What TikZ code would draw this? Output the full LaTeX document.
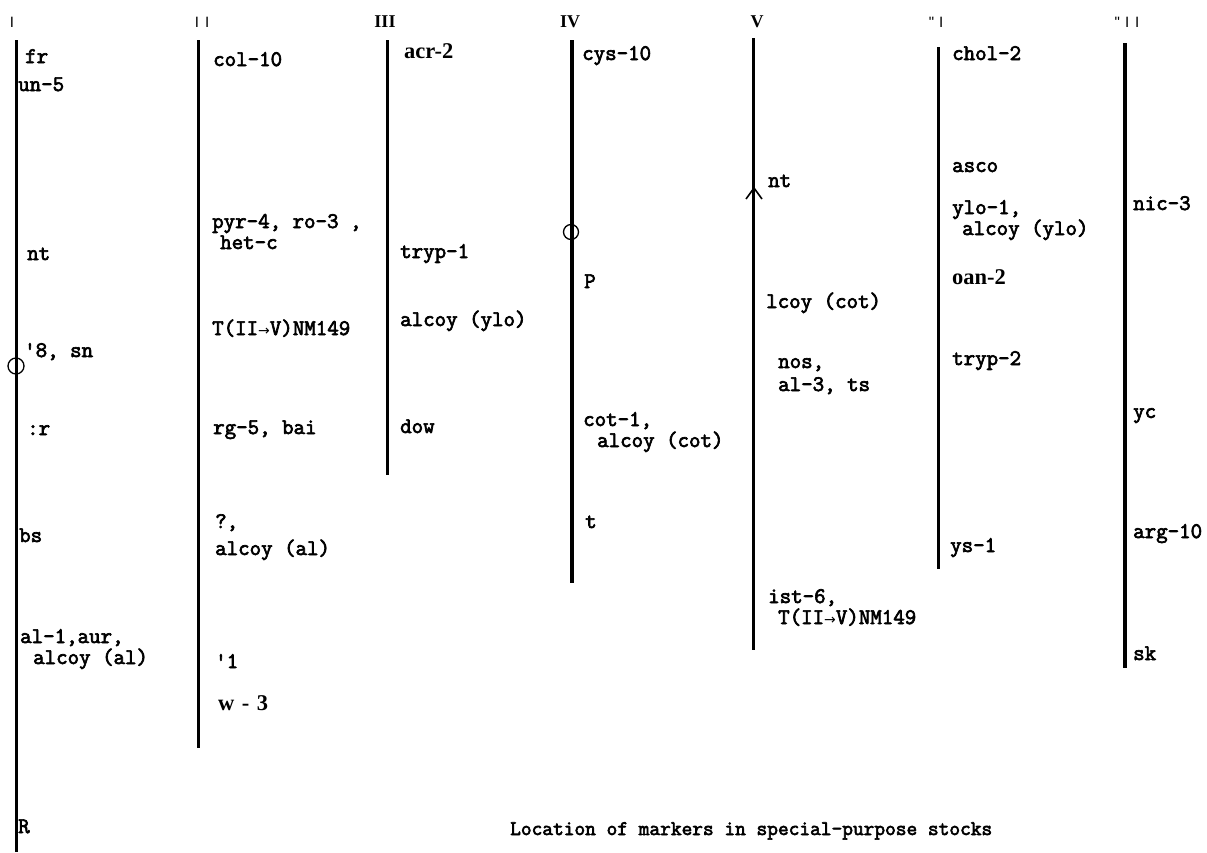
\documentclass[tikz,border=0pt]{standalone}
\usepackage{fontspec}
\newfontfamily\labfont{Latin Modern Mono}[FakeBold=3]
\newfontfamily\serbold{Liberation Serif}
\newfontfamily\headsans{Liberation Sans}
\newfontfamily\arrowfont{DejaVu Sans}
\newcommand{\rarr}{{\arrowfont\fontsize{14pt}{14pt}\selectfont →}}
% two stacked lines: baseline distance, first line, indent of second line, second line
\newcommand{\twoline}[4]{\vtop{\baselineskip=#1\lineskiplimit=-50pt\lineskip=0pt
  \hbox{#2}\hbox{\hspace*{#3}#4}}}
\begin{document}
\begin{tikzpicture}[x=1pt,y=-1pt,
  chrom/.style={line width=3pt},
  chromthick/.style={line width=4.5pt},
  lab/.style={font=\labfont\fontsize{22.3pt}{22pt}\selectfont, anchor=base west, inner sep=0pt},
  serlab/.style={font=\serbold\bfseries\fontsize{22.5pt}{23pt}\selectfont, anchor=base west, inner sep=0pt},
  headser/.style={font=\serbold\bfseries\fontsize{18pt}{19pt}\selectfont, anchor=base, inner sep=0pt},
  headthin/.style={font=\headsans\fontsize{15pt}{16pt}\selectfont, anchor=base, inner sep=0pt},
  caption/.style={font=\labfont\fontsize{20.8pt}{21pt}\selectfont, anchor=base west, inner sep=0pt},
  centromere/.style={circle, draw, line width=1.3pt, minimum size=16pt, inner sep=0pt},
  marker/.style={line width=1.6pt}]
\useasboundingbox (0,0) rectangle (1207,852);

% chromosome axes
\coordinate (I-top) at (16,40);    \coordinate (I-bot) at (16,852);
\coordinate (II-top) at (198,40);  \coordinate (II-bot) at (198,748);
\coordinate (III-top) at (387,40); \coordinate (III-bot) at (387,475);
\coordinate (IV-top) at (572,40);  \coordinate (IV-bot) at (572,583);
\coordinate (V-top) at (753,38);   \coordinate (V-bot) at (753,650);
\coordinate (VI-top) at (938,47);  \coordinate (VI-bot) at (938,569);
\coordinate (VII-top) at (1125,43);\coordinate (VII-bot) at (1125,668);
\draw[chrom] (I-top) -- (I-bot);
\draw[chrom] (II-top) -- (II-bot);
\draw[chrom] (III-top) -- (III-bot);
\draw[chromthick] (IV-top) -- (IV-bot);
\draw[chrom] (V-top) -- (V-bot);
\draw[chrom] (VI-top) -- (VI-bot);
\draw[line width=3.5pt] (VII-top) -- (VII-bot);

% centromeres
\node[centromere] (I-cen) at (16,366) {};
\node[centromere, minimum size=15pt] (IV-cen) at (571,232) {};
% arrowhead mark on V
\coordinate (V-tip) at (754,188);
\coordinate (V-l) at (746,199);
\coordinate (V-r) at (762,199);
\draw[marker] (V-l) -- (V-tip) -- (V-r);

% linkage group headings
\node[headthin] (h1) at (12,27) {I};
\node[headthin] (h2) at (202,27) {I\hspace{6pt}I};
\node[headser] (h3) at (385,27) {III};
\node[headser] (h4) at (570,27) {IV};
\node[headser] (h5) at (757,27) {V};
\node[headthin] (h6) at (936,27) {"\hspace{5pt}I};
\node[headthin] (h7) at (1127,27) {"\hspace{5pt}I\hspace{6pt}I};

% group I
\node[lab] (a1) at (25,63) {fr};
\node[lab] (a2) at (18,91) {un-5};
\node[lab] (a3) at (27,260) {nt};
\node[lab] (a4) at (24,357) {'8, sn};
\node[lab] (a5) at (27,435) {:r};
\node[lab] (a6) at (19,542) {bs};
\node[lab] (a7) at (20,643) {\twoline{21pt}{al-1,aur,}{13pt}{alcoy (al)}};
\node[lab] (a9) at (18,833) {R};

% group II
\node[lab] (b1) at (213,66) {col-10};
\node[lab] (b2) at (212,228) {\twoline{21pt}{pyr-4, ro-3 ,}{8pt}{het-c}};
\node[lab] (b4) at (212,335) {T(II\rarr V)NM149};
\node[lab] (b5) at (213,434) {rg-5, bai};
\node[lab] (b6) at (215,528) {\twoline{27pt}{?,}{0pt}{alcoy (al)}};
\node[lab] (b8) at (215,668) {'1};
\node[serlab] (b9) at (218,710) {w\,\,-\,\,3};

% group III
\node[serlab] (c1) at (404,58) {acr-2};
\node[lab] (c2) at (400,258) {tryp-1};
\node[lab] (c3) at (400,326) {alcoy (ylo)};
\node[lab] (c4) at (400,433) {dow};

% group IV
\node[lab] (d1) at (582,60) {cys-10};
\node[lab] (d2) at (584,288) {P};
\node[lab] (d3) at (583,426) {\twoline{21pt}{cot-1,}{14pt}{alcoy (cot)}};
\node[lab] (d5) at (585,528) {t};

% group V
\node[lab] (e1) at (768,187) {nt};
\node[lab] (e2) at (766,308) {lcoy (cot)};
\node[lab] (e3) at (778,368) {\twoline{23pt}{nos,}{0pt}{al-3, ts}};
\node[lab] (e5) at (768,603) {\twoline{21pt}{ist-6,}{10pt}{T(II\rarr V)NM149}};

% group VI
\node[lab] (f1) at (952,60) {chol-2};
\node[lab] (f2) at (952,172) {asco};
\node[lab] (f3) at (952,214) {\twoline{21pt}{ylo-1,}{10pt}{alcoy (ylo)}};
\node[serlab] (f5) at (952,284) {oan-2};
\node[lab] (f6) at (952,365) {tryp-2};
\node[lab] (f7) at (950,552) {ys-1};

% group VII
\node[lab] (g1) at (1133,210) {nic-3};
\node[lab] (g2) at (1133,418) {yc};
\node[lab] (g3) at (1133,538) {arg-10};
\node[lab] (g4) at (1133,660) {sk};

% caption
\node[caption] (cap) at (510,835) {Location of markers in special-purpose stocks};
\end{tikzpicture}
\end{document}
